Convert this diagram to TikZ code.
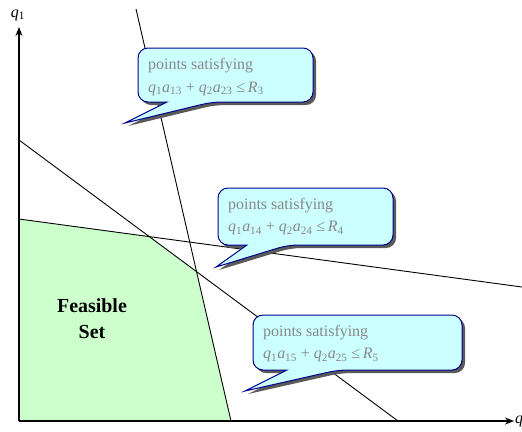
\documentclass[tikz,border=0pt]{standalone}
\usepackage{fontspec}
\setmainfont{Liberation Serif}
\usetikzlibrary{arrows.meta}
\definecolor{feas}{RGB}{204,255,204}
\definecolor{cfill}{RGB}{204,255,255}
\definecolor{cborder}{RGB}{0,0,140}
\definecolor{ctext}{RGB}{135,135,135}
\definecolor{cshadow}{RGB}{90,90,90}
\newcommand{\mycallout}[8]{%
  \fill[cshadow,rounded corners=10bp,shift={(3,3)}] (#5,#4) -- (#1,#4) -- (#1,#2) -- (#3,#2) -- (#3,#4) -- (#6,#4) [sharp corners] -- (#7,#8) -- cycle;
  \filldraw[fill=cfill,draw=cborder,line width=1bp,rounded corners=10bp] (#5,#4) -- (#1,#4) -- (#1,#2) -- (#3,#2) -- (#3,#4) -- (#6,#4) [sharp corners] -- (#7,#8) -- cycle;
}
\newcommand{\qa}[4]{\textit{q}\textsubscript{#1}\textit{a}\textsubscript{#2} + \textit{q}\textsubscript{#3}\textit{a}\textsubscript{#4}}
\begin{document}
\begin{tikzpicture}[x=1bp,y=-1bp,
  cline/.style={line width=0.9bp,black},
  axis/.style={line width=1.8bp,black,-{Stealth[length=9bp,width=7bp]}},
  calltext/.style={anchor=west,align=left,text=ctext,font=\fontsize{16}{22.5}\selectfont,inner sep=0pt},
  feastext/.style={align=center,font=\fontsize{20}{26}\selectfont\bfseries,inner sep=0pt},
  axlabel/.style={font=\fontsize{16}{18}\selectfont,inner sep=0pt}]
\useasboundingbox (0,0) rectangle (522,431);
% coordinates
\coordinate (O) at (19,421);
\coordinate (Ytip) at (19,27);
\coordinate (Xtip) at (514,421);
\coordinate (l3a) at (136,9);
\coordinate (l3b) at (231,421);
\coordinate (l4a) at (19,219);
\coordinate (l4b) at (522,287);
\coordinate (l5a) at (19,140);
\coordinate (l5b) at (398,421);
\coordinate (p1) at (149.3,236.6);
\coordinate (p2) at (196.6,271.7);
% feasible set
\fill[feas] (l4a) -- (p1) -- (p2) -- (l3b) -- (O) -- cycle;
% constraint lines
\draw[cline] (l3a) -- (l3b);
\draw[cline] (l4a) -- (l4b);
\draw[cline] (l5a) -- (l5b);
% axes
\draw[axis] (O) -- (Ytip);
\draw[axis] (O) -- (Xtip);
\node[axlabel] (q1) at (18,15) {\textit{q}\textsubscript{1}};
\node[axlabel,anchor=west] (q2) at (515,421) {\textit{q}\textsubscript{2}};
\node[feastext] (feas) at (92,319) {Feasible\\Set};
% callouts
\mycallout{138}{48}{313}{102}{167}{212}{125}{123}
\mycallout{218}{188}{393}{245}{247}{288}{216}{267}
\mycallout{253}{315}{462}{370}{287}{338}{245}{391}
\node[calltext] (c3) at (148,77) {points satisfying\\\qa{1}{13}{2}{23} ≤\,\textit{R}\textsubscript{3}};
\node[calltext] (c4) at (228,216.5) {points satisfying\\\qa{1}{14}{2}{24} ≤\,\textit{R}\textsubscript{4}};
\node[calltext] (c5) at (263,343.5) {points satisfying\\\qa{1}{15}{2}{25} ≤\,\textit{R}\textsubscript{5}};
\end{tikzpicture}
\end{document}
